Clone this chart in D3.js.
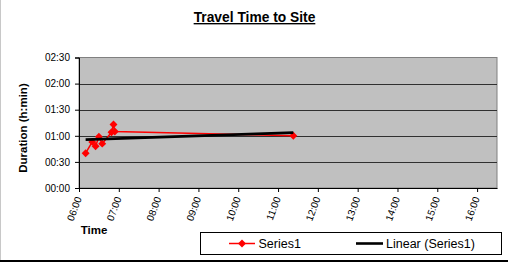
<!DOCTYPE html>
<html><head><meta charset="utf-8">
<script src="https://cdn.jsdelivr.net/npm/d3@7"></script>
<style>body{margin:0;background:#fff}svg{display:block;font-family:"Liberation Sans",Arial,sans-serif}</style>
</head><body><svg id="c" width="508" height="262"></svg>
<script>
const title = "Travel Time to Site";
const xLabel = "Time";
const yLabel = "Duration (h:min)";
const seriesName = "Series1";
const trendName = "Linear (Series1)";
const departTimes = ["06:10","06:20","06:25","06:30","06:35","06:49","06:52","06:54","11:23"];
const durationsMin = [40, 53, 48, 59, 51, 64, 73, 65, 60];
const xTickHours = [6,7,8,9,10,11,12,13,14,15,16];
const yTickMinutes = [0,30,60,90,120,150];

const toH = s => { const [h,m] = s.split(":").map(Number); return h + m/60; };
const pad = n => String(n).padStart(2,"0");
const fmtH = h => pad(Math.floor(h)) + ":" + pad(Math.round((h%1)*60));
const fmtM = m => pad(Math.floor(m/60)) + ":" + pad(m%60);

const data = departTimes.map((t,i)=>({x:toH(t), y:durationsMin[i]}));
const svg = d3.select("#c");
svg.append("line").attr("x1",0.5).attr("x2",0.5).attr("y1",0).attr("y2",262).attr("stroke","#c8c8c8").attr("stroke-width",1);
svg.append("line").attr("x1",0).attr("x2",508).attr("y1",261).attr("y2",261).attr("stroke","#000").attr("stroke-width",2);

const L=79, R=497, T=57.5, B=188;
const x = d3.scaleLinear().domain([6,16.5]).range([L,R]);
const y = d3.scaleLinear().domain([0,150]).range([B,T]);

svg.append("rect").attr("x",L).attr("y",T).attr("width",R-L).attr("height",B-T).attr("fill","#c0c0c0").attr("stroke","#808080").attr("stroke-width",1);
svg.append("g").selectAll("line").data(yTickMinutes.filter(v=>v>0 && v<150)).join("line")
  .attr("x1",L).attr("x2",R).attr("y1",d=>Math.round(y(d))+0.5).attr("y2",d=>Math.round(y(d))+0.5)
  .attr("stroke","#303030").attr("stroke-width",1.2);

const yAxis = svg.append("g").attr("transform",`translate(${L},0)`)
  .call(d3.axisLeft(y).tickValues(yTickMinutes).tickFormat(fmtM).tickSize(4).tickPadding(5));
yAxis.select(".domain").attr("stroke","#000");
yAxis.selectAll("text").attr("font-size",10).attr("fill","#000").attr("font-family","Liberation Sans, Arial");

const xAxis = svg.append("g").attr("transform",`translate(0,${B})`)
  .call(d3.axisBottom(x).tickValues(xTickHours).tickFormat(fmtH).tickSize(4).tickSizeOuter(0));
xAxis.select(".domain").attr("stroke","#000");
xAxis.selectAll("text").attr("font-size",10).attr("fill","#000").attr("font-family","Liberation Sans, Arial")
  .attr("text-anchor","end").attr("dy","0.35em").attr("y",0)
  .attr("transform","translate(-1,9) rotate(-70)");

// series line
svg.append("path").datum(data).attr("fill","none").attr("stroke","#ff0000").attr("stroke-width",1.5)
  .attr("d", d3.line().x(d=>x(d.x)).y(d=>y(d.y)));
const diamond = d3.symbol().type(d3.symbolDiamond2).size(40);
svg.append("g").selectAll("path").data(data).join("path")
  .attr("transform",d=>`translate(${x(d.x)},${y(d.y)})`).attr("d",diamond()).attr("fill","#ff0000");

// linear trend (least squares)
const mx = d3.mean(data,d=>d.x), my = d3.mean(data,d=>d.y);
const slope = d3.sum(data,d=>(d.x-mx)*(d.y-my))/d3.sum(data,d=>(d.x-mx)**2);
const icpt = my - slope*mx;
const xe = d3.extent(data,d=>d.x);
svg.append("line").attr("x1",x(xe[0])).attr("x2",x(xe[1]))
  .attr("y1",y(icpt+slope*xe[0])).attr("y2",y(icpt+slope*xe[1]))
  .attr("stroke","#000").attr("stroke-width",2.6);

// title
svg.append("text").attr("x",254.5).attr("y",22).attr("text-anchor","middle")
  .attr("font-size",13.8).attr("font-weight","bold").attr("text-decoration","underline").text(title);
svg.append("text").attr("transform","translate(27,128) rotate(-90)").attr("text-anchor","middle")
  .attr("font-size",11.5).attr("font-weight","bold").text(yLabel);
svg.append("text").attr("x",94).attr("y",234).attr("text-anchor","middle")
  .attr("font-size",11.5).attr("font-weight","bold").text(xLabel);

// legend
const lg = svg.append("g");
lg.append("rect").attr("x",200.5).attr("y",232.5).attr("width",301).attr("height",22).attr("fill","#fff").attr("stroke","#000").attr("stroke-width",1);
const ly = 243.5;
lg.append("line").attr("x1",229).attr("x2",255).attr("y1",ly).attr("y2",ly).attr("stroke","#ff0000").attr("stroke-width",1.5);
lg.append("path").attr("transform",`translate(242,${ly})`).attr("d",diamond()).attr("fill","#ff0000");
lg.append("text").attr("x",258.5).attr("y",ly).attr("dy","0.35em").attr("font-size",12.5).text(seriesName);
lg.append("line").attr("x1",356).attr("x2",383).attr("y1",ly).attr("y2",ly).attr("stroke","#000").attr("stroke-width",2.6);
lg.append("text").attr("x",386).attr("y",ly).attr("dy","0.35em").attr("font-size",12.5).text(trendName);
</script></body></html>
